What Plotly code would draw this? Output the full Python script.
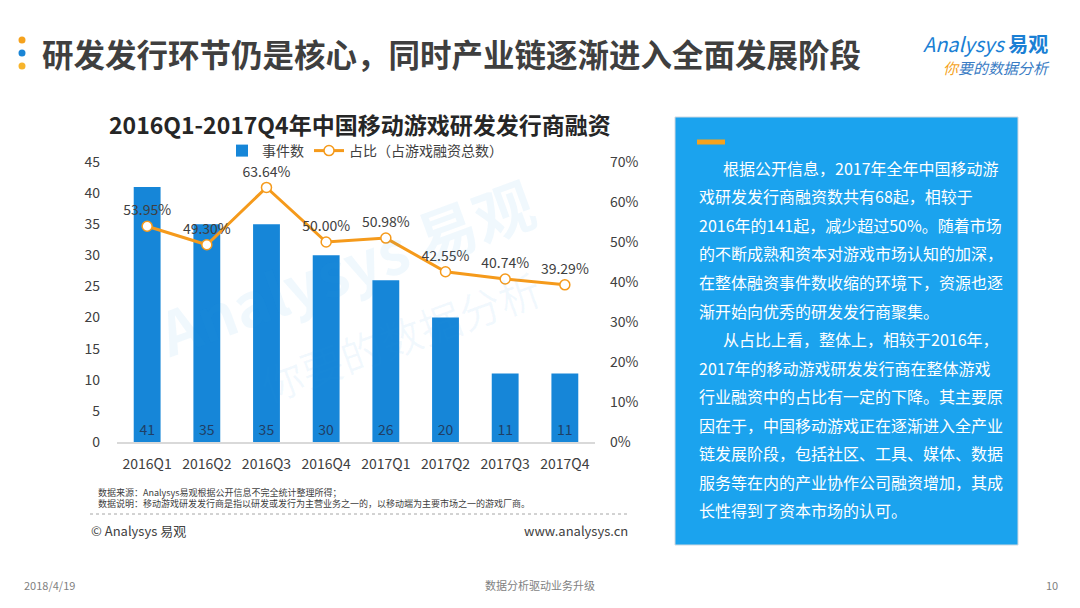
import plotly.graph_objects as go

# ---------------- data ----------------
categories = ["2016Q1", "2016Q2", "2016Q3", "2016Q4", "2017Q1", "2017Q2", "2017Q3", "2017Q4"]
event_counts = [41, 35, 35, 30, 26, 20, 11, 11]
share_pct = [0.5395, 0.4930, 0.6364, 0.5000, 0.5098, 0.4255, 0.4074, 0.3929]
share_labels = ["53.95%", "49.30%", "63.64%", "50.00%", "50.98%", "42.55%", "40.74%", "39.29%"]
left_ticks = [0, 5, 10, 15, 20, 25, 30, 35, 40, 45]
right_ticks = [0, 0.1, 0.2, 0.3, 0.4, 0.5, 0.6, 0.7]
right_tick_labels = ["0%", "10%", "20%", "30%", "40%", "50%", "60%", "70%"]

series_bar_name = "事件数"
series_line_name = "占比（占游戏融资总数）"

page_title = "研发发行环节仍是核心，同时产业链逐渐进入全面发展阶段"
chart_title = "2016Q1-2017Q4年中国移动游戏研发发行商融资"
note_lines = [
    "数据来源：Analysys易观根据公开信息不完全统计整理所得；",
    "数据说明：移动游戏研发发行商是指以研发或发行为主营业务之一的，以移动端为主要市场之一的游戏厂商。",
]
box_lines = [
    "根据公开信息，2017年全年中国移动游",
    "戏研发发行商融资数共有68起，相较于",
    "2016年的141起，减少超过50%。随着市场",
    "的不断成熟和资本对游戏市场认知的加深，",
    "在整体融资事件数收缩的环境下，资源也逐",
    "渐开始向优秀的研发发行商聚集。",
    "从占比上看，整体上，相较于2016年，",
    "2017年的移动游戏研发发行商在整体游戏",
    "行业融资中的占比有一定的下降。其主要原",
    "因在于，中国移动游戏正在逐渐进入全产业",
    "链发展阶段，包括社区、工具、媒体、数据",
    "服务等在内的产业协作公司融资增加，其成",
    "长性得到了资本市场的认可。",
]
indented_lines = {0, 6}

# ---------------- styling ----------------
W, H = 1080, 608
FONT = "Noto Sans CJK SC, Microsoft YaHei, sans-serif"
TXT = "#404040"
BLUE = "#1686d8"
ORANGE = "#f59a1b"


def px(x):
    return x / W


def py(y):
    return (H - y) / H


fig = go.Figure()

fig.add_trace(go.Bar(
    x=categories, y=event_counts, name=series_bar_name,
    marker=dict(color=BLUE, line=dict(width=0)),
    text=[str(v) for v in event_counts], textposition="inside",
    insidetextanchor="start", textangle=0,
    textfont=dict(family=FONT, size=14, color="#1f3f66"),
    hoverinfo="skip", yaxis="y",
))
fig.add_trace(go.Scatter(
    x=categories, y=share_pct, name=series_line_name, mode="lines+markers+text",
    line=dict(color=ORANGE, width=3),
    marker=dict(symbol="circle", size=10, color="white", line=dict(color=ORANGE, width=1.5)),
    text=share_labels, textposition="top center",
    textfont=dict(family=FONT, size=14, color=TXT),
    hoverinfo="skip", yaxis="y2", cliponaxis=False,
))

fig.update_layout(
    width=W, height=H, margin=dict(l=0, r=0, t=0, b=0, pad=0, autoexpand=False), autosize=False,
    paper_bgcolor="white", plot_bgcolor="rgba(0,0,0,0)",
    font=dict(family=FONT, color=TXT),
    bargap=0.55, showlegend=True,
    legend=dict(orientation="h", x=px(365), y=py(151), xanchor="center", yanchor="middle",
                font=dict(size=14, color=TXT), bgcolor="rgba(0,0,0,0)",
                itemwidth=30, tracegroupgap=0),
    xaxis=dict(domain=[px(117), px(595)], showgrid=False, zeroline=False,
               showline=True, linecolor="#d9d9d9", linewidth=1.5,
               ticks="", tickfont=dict(size=14, color=TXT), ticklabelstandoff=8,
               fixedrange=True, automargin=False),
    yaxis=dict(domain=[py(442), py(162)], range=[0, 45], tickvals=left_ticks,
               showgrid=False, zeroline=False, showline=False, ticks="",
               tickfont=dict(size=14, color=TXT), ticklabelstandoff=16, automargin=False),
    yaxis2=dict(domain=[py(442), py(162)], range=[0, 0.7], overlaying="y", side="right",
                tickvals=right_ticks, ticktext=right_tick_labels,
                showgrid=False, zeroline=False, showline=False, ticks="",
                tickfont=dict(size=14, color=TXT), ticklabelstandoff=14, automargin=False),
)

shapes = []
annotations = []

# watermark
annotations.append(dict(x=px(345), y=py(265), xref="paper", yref="paper", xanchor="center", yanchor="middle",
                        text="<b>Analysys 易观</b>",
                        showarrow=False, textangle=-20, font=dict(size=60, color="rgba(40,150,230,0.07)")))
annotations.append(dict(x=px(400), y=py(335), xref="paper", yref="paper", xanchor="center", yanchor="middle",
                        text="你要的数据分析",
                        showarrow=False, textangle=-20, font=dict(size=42, color="rgba(40,150,230,0.06)")))

# page title dots
for yy, col in [(40, "#f5a21d"), (53, "#1a85d6"), (66, "#f7b42c")]:
    shapes.append(dict(type="circle", xref="paper", yref="paper",
                       x0=px(18.5), x1=px(25.5), y0=py(yy + 3.5), y1=py(yy - 3.5),
                       fillcolor=col, line=dict(width=0)))

annotations.append(dict(x=px(40), y=py(53), xref="paper", yref="paper", xanchor="left", yanchor="middle",
                        text="<b>" + page_title + "</b>", showarrow=False,
                        font=dict(size=31.5, color="#3f3f3f")))

# logo
annotations.append(dict(x=px(921), y=py(43), xref="paper", yref="paper", xanchor="left", yanchor="middle",
                        text="<i>Analysys</i> <b>易观</b>", showarrow=False,
                        font=dict(size=20, color="#1a7fd4")))
annotations.append(dict(x=px(941), y=py(67), xref="paper", yref="paper", xanchor="left", yanchor="middle",
                        text="<i><span style='color:#f5a21d'>你</span>要的数据分析</i>", showarrow=False,
                        font=dict(size=15, color="#3a7cc4")))

# chart title
annotations.append(dict(x=px(360), y=py(124), xref="paper", yref="paper", xanchor="center", yanchor="middle",
                        text="<b>" + chart_title + "</b>", showarrow=False,
                        font=dict(size=23, color="#262626")))

# notes
for i, t in enumerate(note_lines):
    annotations.append(dict(x=px(96), y=py(492 + 11 * i), xref="paper", yref="paper",
                            xanchor="left", yanchor="middle", text=t, showarrow=False,
                            font=dict(size=9, color="#404040")))
shapes.append(dict(type="line", xref="paper", yref="paper", x0=px(90), x1=px(630),
                   y0=py(514), y1=py(514), line=dict(color="#a6a6a6", width=1, dash="dot")))
annotations.append(dict(x=px(89), y=py(530), xref="paper", yref="paper", xanchor="left", yanchor="middle",
                        text="© Analysys 易观", showarrow=False, font=dict(size=13, color="#404040")))
annotations.append(dict(x=px(630), y=py(530), xref="paper", yref="paper", xanchor="right", yanchor="middle",
                        text="www.analysys.cn", showarrow=False, font=dict(size=13, color="#404040")))

# right text box
shapes.append(dict(type="rect", xref="paper", yref="paper", x0=px(675), x1=px(1018),
                   y0=py(545), y1=py(117), fillcolor="#1ba3ee", line=dict(color="#d0d8e0", width=1)))
shapes.append(dict(type="rect", xref="paper", yref="paper", x0=px(697), x1=px(725),
                   y0=py(144.5), y1=py(139.5), fillcolor="#f5a21d", line=dict(width=0)))
for i, t in enumerate(box_lines):
    x0 = 721 if i in indented_lines else 697
    annotations.append(dict(x=px(x0), y=py(168 + 28.5 * i), xref="paper", yref="paper",
                            xanchor="left", yanchor="middle", text=t, showarrow=False,
                            font=dict(size=16, color="white")))

# footer
annotations.append(dict(x=px(22), y=py(585), xref="paper", yref="paper", xanchor="left", yanchor="middle",
                        text="2018/4/19", showarrow=False, font=dict(size=11, color="#7f7f7f")))
annotations.append(dict(x=px(540), y=py(585), xref="paper", yref="paper", xanchor="center", yanchor="middle",
                        text="数据分析驱动业务升级", showarrow=False, font=dict(size=11, color="#7f7f7f")))
annotations.append(dict(x=px(1060), y=py(585), xref="paper", yref="paper", xanchor="right", yanchor="middle",
                        text="10", showarrow=False, font=dict(size=11, color="#7f7f7f")))

fig.update_layout(shapes=shapes, annotations=annotations)
fig.write_html("out.html", config={"displayModeBar": False},
               post_script="document.body.style.margin='0';document.body.style.overflow='hidden';")
